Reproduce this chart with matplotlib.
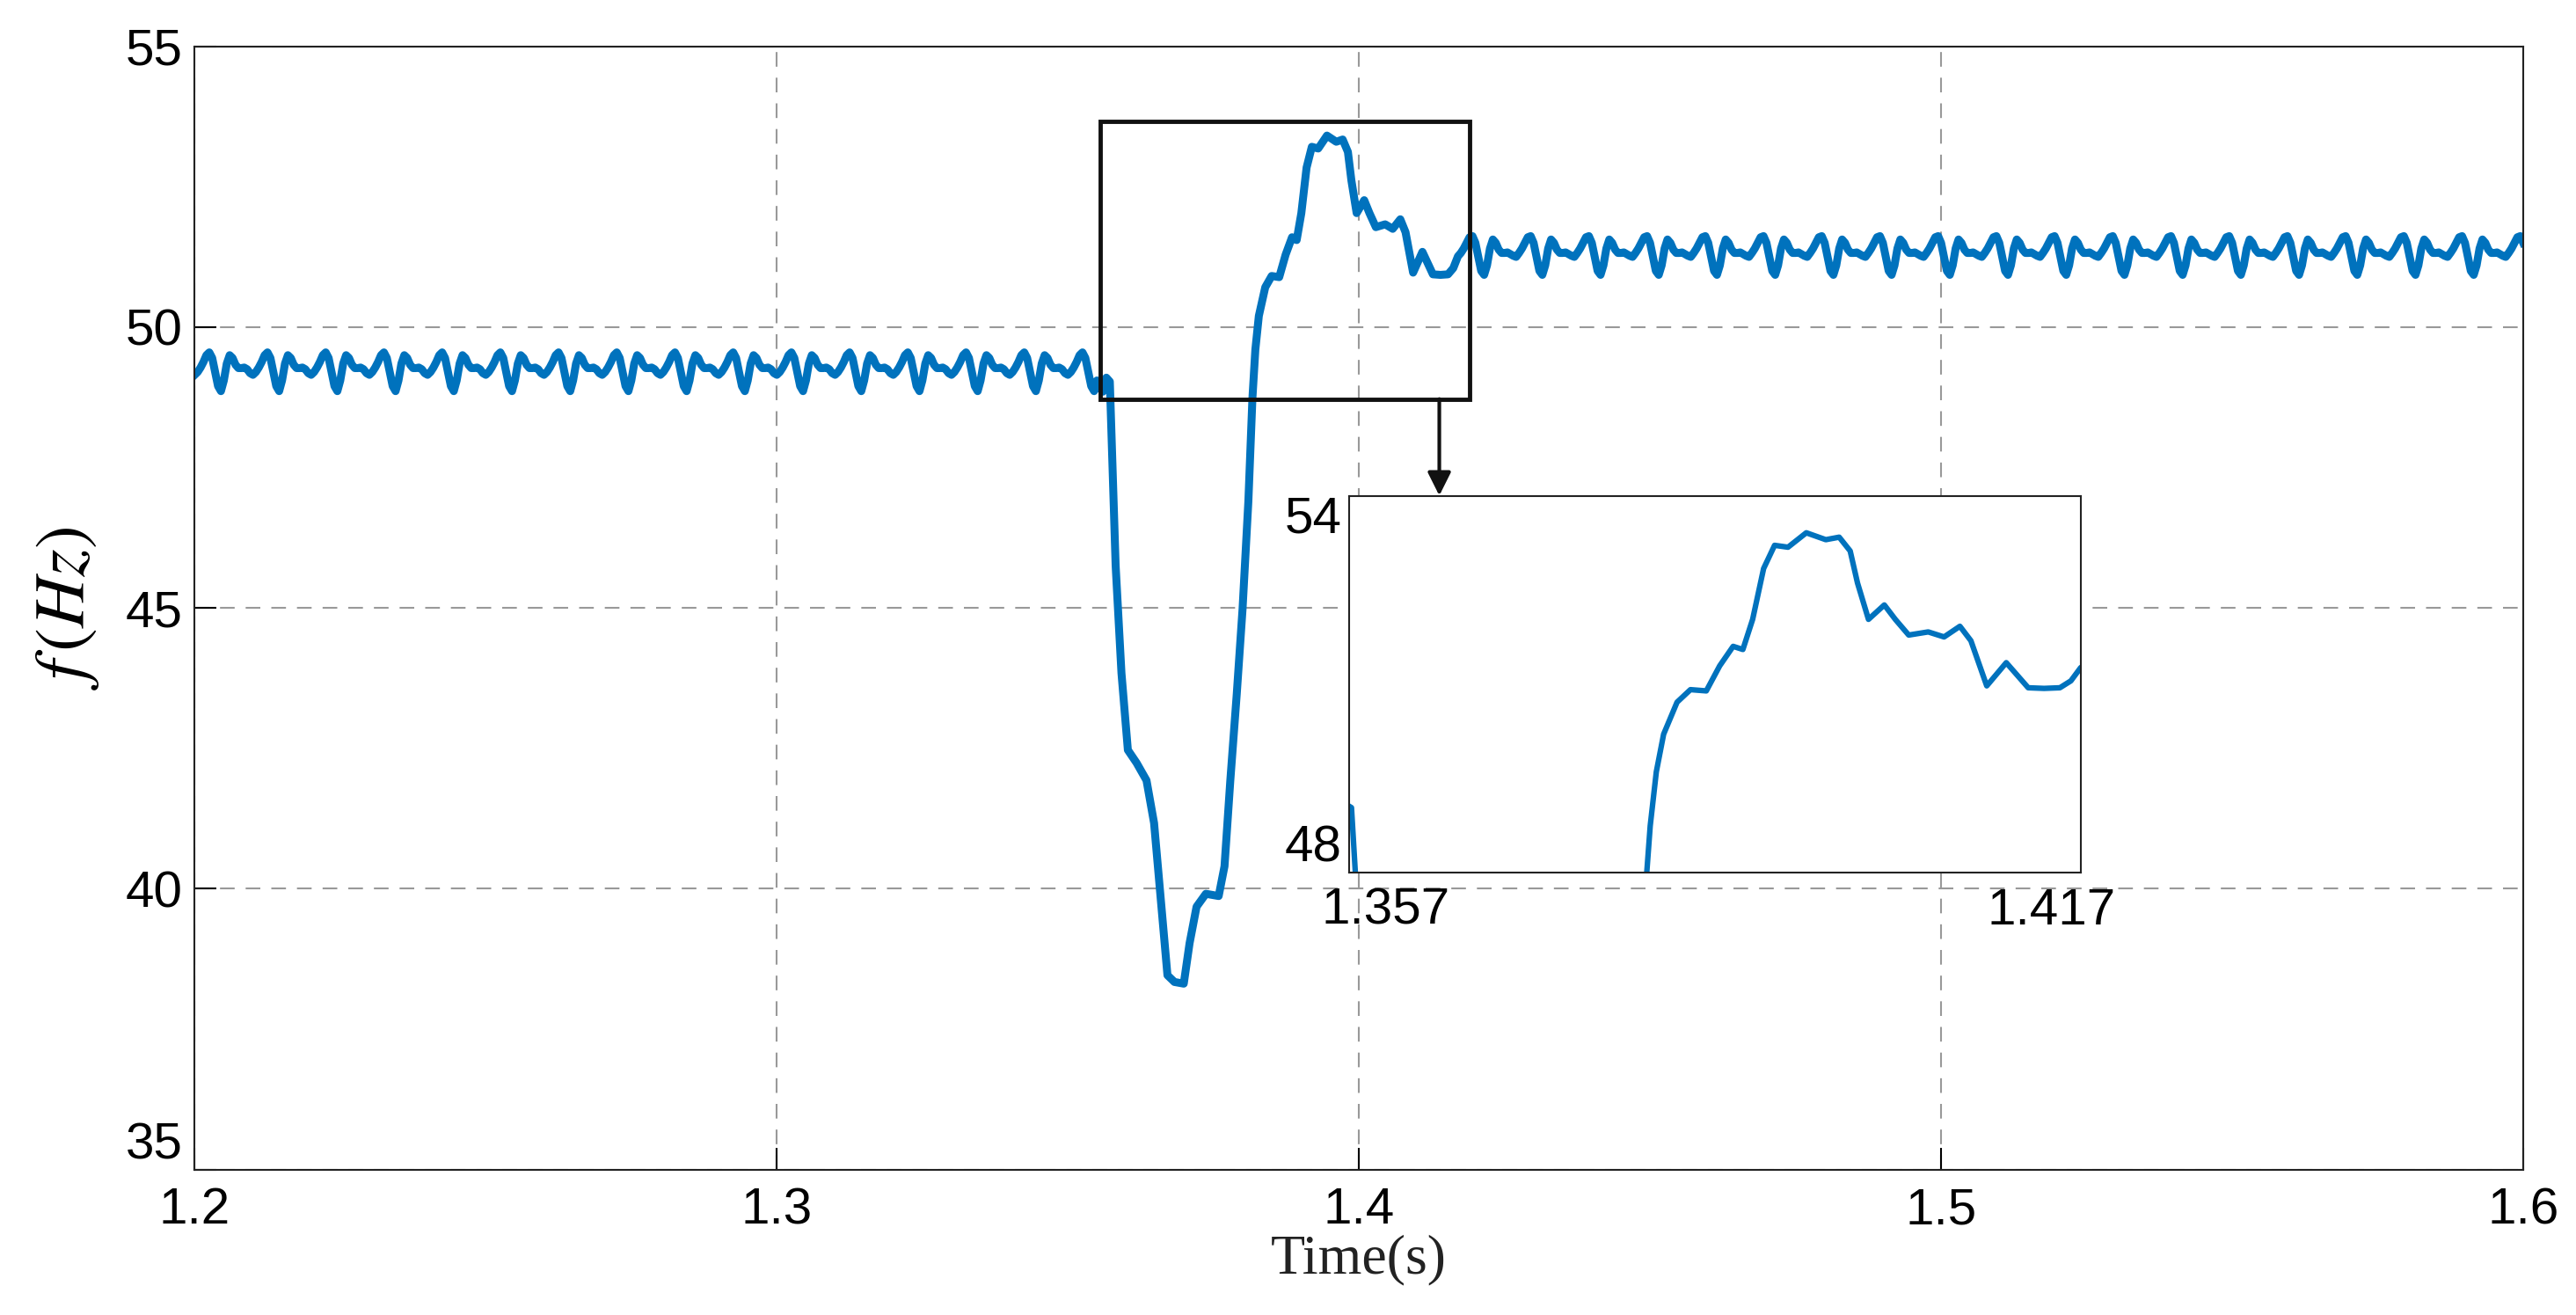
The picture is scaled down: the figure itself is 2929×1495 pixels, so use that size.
import numpy as np
import matplotlib.pyplot as plt
from matplotlib.patches import Rectangle

plt.rcParams['mathtext.fontset'] = 'stix'

# ripple of one 10 ms period, sampled every 0.5 ms (before the event)
pre_ripple = [49.15, 49.20, 49.28, 49.38, 49.50, 49.55, 49.45, 49.20, 48.95, 48.86,
              49.05, 49.35, 49.50, 49.45, 49.33, 49.27, 49.27, 49.28, 49.25, 49.18]
# same period after the event
post_ripple = [51.25, 51.32, 51.40, 51.50, 51.60, 51.62, 51.50, 51.25, 51.00, 50.93,
               51.10, 51.40, 51.56, 51.50, 51.38, 51.32, 51.32, 51.33, 51.30, 51.27]

# transient
t_event = [1.3552, 1.3560, 1.3566, 1.3572, 1.3582, 1.3592, 1.3603, 1.3618, 1.3635, 1.3648,
           1.3661, 1.3671, 1.3683, 1.3699, 1.3709, 1.3721, 1.3737, 1.3759, 1.3769, 1.3779,
           1.3790, 1.3800, 1.3810, 1.3817, 1.3822, 1.3828, 1.3839, 1.3850, 1.3863, 1.3874,
           1.3885, 1.3893, 1.3901, 1.3910, 1.3919, 1.3930, 1.3945, 1.3961, 1.3972, 1.3981,
           1.3987, 1.3996, 1.4009, 1.4018, 1.4029, 1.4045, 1.4058, 1.4071, 1.4080, 1.4093,
           1.4109, 1.4127, 1.4140, 1.4153, 1.4162, 1.4170]
f_event = [48.95, 48.85, 49.10, 49.03, 45.75, 43.84, 42.47, 42.24, 41.93, 41.17,
           39.64, 38.46, 38.34, 38.31, 39.03, 39.68, 39.91, 39.87, 40.40, 41.93,
           43.46, 44.98, 46.90, 48.74, 49.60, 50.20, 50.71, 50.91, 50.89, 51.29,
           51.60, 51.55, 52.03, 52.84, 53.21, 53.18, 53.41, 53.30, 53.34, 53.12,
           52.61, 52.03, 52.26, 52.03, 51.78, 51.83, 51.75, 51.92, 51.69, 50.97,
           51.34, 50.94, 50.93, 50.94, 51.05, 51.26]

dt = 0.0005
t_pre = np.arange(1.2, 1.3550, dt)
f_pre = np.array(pre_ripple)[np.arange(len(t_pre)) % len(pre_ripple)]
t_post = np.arange(1.4175, 1.6001, dt)
f_post = np.array(post_ripple)[(np.arange(len(t_post)) + 1) % len(post_ripple)]

t = np.concatenate([t_pre, t_event, t_post])
f = np.concatenate([f_pre, f_event, f_post])

blue = '#0072BD'
sans = ['Liberation Sans', 'DejaVu Sans']

fig = plt.figure(figsize=(29.29, 14.95), dpi=100)
ax = fig.add_axes([0.0756, 0.1106, 0.9039, 0.8542])
ax.plot(t, f, color=blue, lw=6.5, solid_joinstyle='round')
ax.set_xlim(1.2, 1.6)
ax.set_ylim(35, 55)
ax.set_xticks([1.2, 1.3, 1.4, 1.5, 1.6])
ax.set_xticklabels(['1.2', '1.3', '1.4', '1.5', '1.6'])
ax.set_yticks([35, 40, 45, 50, 55])
ax.tick_params(direction='in', length=18, width=1.5, labelsize=42, pad=10)
ax.tick_params(axis='x', pad=14)
for lab in ax.get_xticklabels() + ax.get_yticklabels():
    lab.set_family(sans)
ax.get_yticklabels()[0].set_va('bottom')
ax.grid(True, ls=(0, (8, 6)), color='#999999', lw=1.5)
for s in ax.spines.values():
    s.set_linewidth(1.5)
    s.set_color('#222222')
ax.set_xlabel('Time(s)', fontsize=46, family=['Liberation Serif', 'DejaVu Serif'], labelpad=0, color='#222222')
ax.set_ylabel(r'$f\,(Hz)$', fontsize=58, labelpad=20)

# zoom box and arrow
ax.add_patch(Rectangle((1.3555, 48.72), 0.0635, 4.95, fill=False, lw=3.5, ec='#111111', zorder=5))
ax.annotate('', xy=(1.4138, 47.0), xytext=(1.4138, 48.72),
            arrowprops=dict(arrowstyle='-|>', color='#111111', lw=3, mutation_scale=40,
                            shrinkA=0, shrinkB=0))

ins = fig.add_axes([0.5237, 0.3367, 0.284, 0.2863])
ins.plot(t, f, color=blue, lw=4.5, solid_joinstyle='round')
ins.set_xlim(1.357, 1.417)
ins.set_ylim(48, 54)
ins.set_xticks([1.357, 1.417])
ins.set_yticks([48, 54])
ins.set_xticklabels([])
ins.set_yticklabels([])
ins.tick_params(length=0)
for s in ins.spines.values():
    s.set_linewidth(1.5)
    s.set_color('#222222')
lab_kw = dict(fontsize=42, family=sans, transform=ins.transAxes)
ins.text(0.05, -0.04, '1.357', ha='center', va='top', **lab_kw)
ins.text(0.96, -0.04, '1.417', ha='center', va='top', **lab_kw)
ins.text(-0.01, 1.0, '54', ha='right', va='top', **lab_kw)
ins.text(-0.01, 0.0, '48', ha='right', va='bottom', **lab_kw)

fig.savefig('out.png', dpi=100)
